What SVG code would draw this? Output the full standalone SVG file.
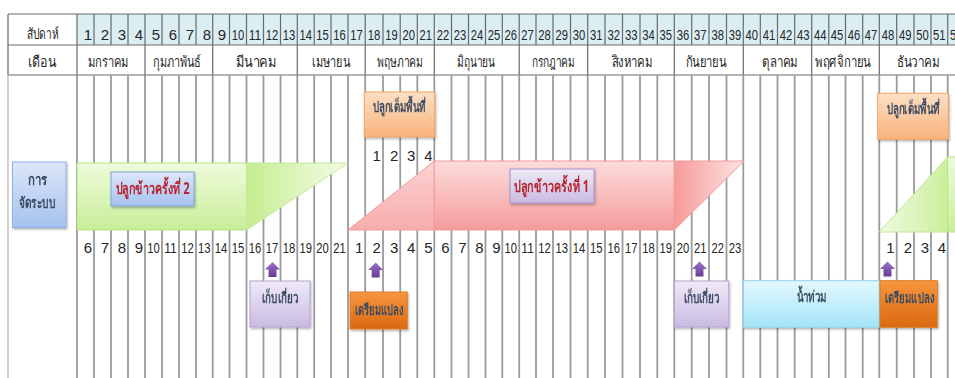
<svg xmlns="http://www.w3.org/2000/svg" width="955" height="378" viewBox="0 0 955 378">
  <style>
    .num { font-family: "Liberation Sans", sans-serif; font-size: 15px; fill: #262626; text-anchor: middle; }
    .th { font-family: "Noto Sans", "DejaVu Sans", sans-serif; font-size: 15px; fill: #262626; text-anchor: middle; }
    .lbl { font-family: "Noto Sans", "DejaVu Sans", sans-serif; font-size: 15px; font-weight: bold; fill: #3a4a62; text-anchor: middle; }
    .crop { font-family: "Noto Sans", "DejaVu Sans", sans-serif; font-size: 16px; font-weight: bold; fill: #b5222e; text-anchor: middle; }
    .hd { stroke: #6a6a6a; stroke-width: 1.2; fill: none; }
    .vl { stroke: #9b9b9b; stroke-width: 1.8; fill: none; }
    .box { filter: url(#shadow); }
  </style>
  <defs>
    <filter id="shadow" x="-20%" y="-20%" width="140%" height="150%">
      <feDropShadow dx="1" dy="1.5" stdDeviation="1" flood-color="#000" flood-opacity="0.3"/>
    </filter>
    <linearGradient id="gBlue" x1="0" y1="0" x2="0" y2="1">
      <stop offset="0" stop-color="#dce7f9"/>
      <stop offset="1" stop-color="#a6c2ef"/>
    </linearGradient>
    <linearGradient id="gLav" x1="0" y1="0" x2="0" y2="1">
      <stop offset="0" stop-color="#efe9f7"/>
      <stop offset="1" stop-color="#c9bbe2"/>
    </linearGradient>
    <linearGradient id="gPeach" x1="0" y1="0" x2="0" y2="1">
      <stop offset="0" stop-color="#fde0c4"/>
      <stop offset="1" stop-color="#f8b27c"/>
    </linearGradient>
    <linearGradient id="gOrange" x1="0" y1="0" x2="0" y2="1">
      <stop offset="0" stop-color="#f8963f"/>
      <stop offset="1" stop-color="#d9690f"/>
    </linearGradient>
    <linearGradient id="gCyan" x1="0" y1="0" x2="0" y2="1">
      <stop offset="0" stop-color="#e3f8fe"/>
      <stop offset="1" stop-color="#a4e4f7"/>
    </linearGradient>
    <linearGradient id="gGreen" x1="0" y1="0" x2="0" y2="1">
      <stop offset="0" stop-color="#eefbdc"/>
      <stop offset="1" stop-color="#c9ee98"/>
    </linearGradient>
    <linearGradient id="gGreenFade" x1="0" y1="0" x2="1" y2="0">
      <stop offset="0" stop-color="#c6ed90"/>
      <stop offset="1" stop-color="#f4fce9"/>
    </linearGradient>
    <linearGradient id="gGreenRise" x1="0" y1="0" x2="1" y2="0">
      <stop offset="0" stop-color="#eefbe0"/>
      <stop offset="1" stop-color="#cbef9c"/>
    </linearGradient>
    <linearGradient id="gPink" x1="0" y1="0" x2="0" y2="1">
      <stop offset="0" stop-color="#fddcdc"/>
      <stop offset="1" stop-color="#f59c9c"/>
    </linearGradient>
    <linearGradient id="gPinkL" x1="0" y1="0" x2="0" y2="1">
      <stop offset="0" stop-color="#fcd3d3"/>
      <stop offset="1" stop-color="#f8acac"/>
    </linearGradient>
    <linearGradient id="gPinkFade" x1="0" y1="0" x2="1" y2="0">
      <stop offset="0" stop-color="#f79a9a"/>
      <stop offset="1" stop-color="#fde4e4"/>
    </linearGradient>
    <linearGradient id="gArrow" x1="0" y1="0" x2="0" y2="1">
      <stop offset="0" stop-color="#9b73c6"/>
      <stop offset="1" stop-color="#683c97"/>
    </linearGradient>
    <path id="up" d="M0,0 L7.5,7.5 L4,7.5 L4,15 L-4,15 L-4,7.5 L-7.5,7.5 Z"/>
  </defs>

  <rect width="955" height="378" fill="#ffffff"/>

  <!-- header table -->
  <g id="header">
    <rect x="77" y="14" width="878" height="31" fill="#dbeef4"/>
    <path class="hd" d="M8,14H955 M8,45H955 M8,75H955 M8,14V75"/>
    <!-- week dividers in the week row -->
    <path class="hd" d="M77,14V45 M94,14V45 M111,14V45 M128,14V45 M145,14V45 M162,14V45 M179,14V45 M196,14V45 M212.7,14V45 M229.5,14V45 M246.5,14V45 M263.5,14V45 M280.5,14V45 M297.3,14V45 M314.2,14V45 M331,14V45 M348,14V45 M365.2,14V45 M383,14V45 M400.2,14V45 M417.3,14V45 M434.3,14V45 M451.5,14V45 M468.5,14V45 M485.5,14V45 M502.3,14V45 M519.2,14V45 M536,14V45 M553,14V45 M570.5,14V45 M587.7,14V45 M605,14V45 M622.5,14V45 M640,14V45 M657.3,14V45 M674.3,14V45 M691.7,14V45 M709,14V45 M726.5,14V45 M743.3,14V45 M760.3,14V45 M777.5,14V45 M794.7,14V45 M811.7,14V45 M828.8,14V45 M845.5,14V45 M862.7,14V45 M879.3,14V45 M896.7,14V45 M914,14V45 M931,14V45 M947.7,14V45"/>
    <!-- month dividers -->
    <path class="hd" d="M77,45V75 M145,45V75 M212.7,45V75 M297.3,45V75 M365.2,45V75 M434.3,45V75 M519.2,45V75 M587.7,45V75 M674.3,45V75 M743.3,45V75 M811.7,45V75 M879.3,45V75"/>
    <text class="th" x="42.5" y="39" textLength="32" lengthAdjust="spacingAndGlyphs">สัปดาห์</text>
    <text class="th" x="42" y="67" textLength="28" lengthAdjust="spacingAndGlyphs">เดือน</text>
    <g class="th" lengthAdjust="spacingAndGlyphs">
      <text x="108" y="67" textLength="41" lengthAdjust="spacingAndGlyphs">มกราคม</text>
      <text x="177" y="67" textLength="48" lengthAdjust="spacingAndGlyphs">กุมภาพันธ์</text>
      <text x="256" y="67" textLength="41" lengthAdjust="spacingAndGlyphs">มีนาคม</text>
      <text x="331" y="67" textLength="38" lengthAdjust="spacingAndGlyphs">เมษายน</text>
      <text x="400" y="67" textLength="46" lengthAdjust="spacingAndGlyphs">พฤษภาคม</text>
      <text x="476" y="67" textLength="38" lengthAdjust="spacingAndGlyphs">มิถุนายน</text>
      <text x="553" y="67" textLength="43" lengthAdjust="spacingAndGlyphs">กรกฎาคม</text>
      <text x="632" y="67" textLength="41" lengthAdjust="spacingAndGlyphs">สิงหาคม</text>
      <text x="706" y="67" textLength="41" lengthAdjust="spacingAndGlyphs">กันยายน</text>
      <text x="780" y="67" textLength="36" lengthAdjust="spacingAndGlyphs">ตุลาคม</text>
      <text x="843" y="67" textLength="56" lengthAdjust="spacingAndGlyphs">พฤศจิกายน</text>
      <text x="918" y="67" textLength="43" lengthAdjust="spacingAndGlyphs">ธันวาคม</text>
    </g>
    <g class="num">
      <text x="88" y="40" textLength="6">1</text><text x="105" y="40" textLength="6">2</text><text x="122" y="40" textLength="6">3</text><text x="139" y="40" textLength="6">4</text>
      <text x="156" y="40" textLength="6">5</text><text x="173" y="40" textLength="6">6</text><text x="190" y="40" textLength="6">7</text><text x="206.8" y="40" textLength="6">8</text>
      <text x="222" y="40" textLength="6">9</text>
      <text x="238" y="40" textLength="12.5" lengthAdjust="spacingAndGlyphs">10</text><text x="255" y="40" textLength="12.5" lengthAdjust="spacingAndGlyphs">11</text><text x="272" y="40" textLength="12.5" lengthAdjust="spacingAndGlyphs">12</text>
      <text x="288.9" y="40" textLength="12.5" lengthAdjust="spacingAndGlyphs">13</text><text x="305.7" y="40" textLength="12.5" lengthAdjust="spacingAndGlyphs">14</text><text x="322.6" y="40" textLength="12.5" lengthAdjust="spacingAndGlyphs">15</text><text x="339.5" y="40" textLength="12.5" lengthAdjust="spacingAndGlyphs">16</text>
      <text x="356.6" y="40" textLength="12.5" lengthAdjust="spacingAndGlyphs">17</text><text x="374.1" y="40" textLength="12.5" lengthAdjust="spacingAndGlyphs">18</text><text x="391.6" y="40" textLength="12.5" lengthAdjust="spacingAndGlyphs">19</text><text x="408.7" y="40" textLength="12.5" lengthAdjust="spacingAndGlyphs">20</text>
      <text x="425.8" y="40" textLength="12.5" lengthAdjust="spacingAndGlyphs">21</text><text x="442.9" y="40" textLength="12.5" lengthAdjust="spacingAndGlyphs">22</text><text x="460" y="40" textLength="12.5" lengthAdjust="spacingAndGlyphs">23</text><text x="477" y="40" textLength="12.5" lengthAdjust="spacingAndGlyphs">24</text>
      <text x="493.9" y="40" textLength="12.5" lengthAdjust="spacingAndGlyphs">25</text><text x="510.7" y="40" textLength="12.5" lengthAdjust="spacingAndGlyphs">26</text><text x="527.6" y="40" textLength="12.5" lengthAdjust="spacingAndGlyphs">27</text><text x="544.5" y="40" textLength="12.5" lengthAdjust="spacingAndGlyphs">28</text>
      <text x="561.7" y="40" textLength="12.5" lengthAdjust="spacingAndGlyphs">29</text><text x="579.1" y="40" textLength="12.5" lengthAdjust="spacingAndGlyphs">30</text><text x="596.3" y="40" textLength="12.5" lengthAdjust="spacingAndGlyphs">31</text><text x="613.7" y="40" textLength="12.5" lengthAdjust="spacingAndGlyphs">32</text>
      <text x="631.2" y="40" textLength="12.5" lengthAdjust="spacingAndGlyphs">33</text><text x="648.6" y="40" textLength="12.5" lengthAdjust="spacingAndGlyphs">34</text><text x="665.8" y="40" textLength="12.5" lengthAdjust="spacingAndGlyphs">35</text><text x="683" y="40" textLength="12.5" lengthAdjust="spacingAndGlyphs">36</text>
      <text x="700.3" y="40" textLength="12.5" lengthAdjust="spacingAndGlyphs">37</text><text x="717.7" y="40" textLength="12.5" lengthAdjust="spacingAndGlyphs">38</text><text x="734.9" y="40" textLength="12.5" lengthAdjust="spacingAndGlyphs">39</text><text x="751.8" y="40" textLength="12.5" lengthAdjust="spacingAndGlyphs">40</text>
      <text x="768.9" y="40" textLength="12.5" lengthAdjust="spacingAndGlyphs">41</text><text x="786.1" y="40" textLength="12.5" lengthAdjust="spacingAndGlyphs">42</text><text x="803.2" y="40" textLength="12.5" lengthAdjust="spacingAndGlyphs">43</text><text x="820.2" y="40" textLength="12.5" lengthAdjust="spacingAndGlyphs">44</text>
      <text x="837.1" y="40" textLength="12.5" lengthAdjust="spacingAndGlyphs">45</text><text x="854.1" y="40" textLength="12.5" lengthAdjust="spacingAndGlyphs">46</text><text x="871" y="40" textLength="12.5" lengthAdjust="spacingAndGlyphs">47</text><text x="888" y="40" textLength="12.5" lengthAdjust="spacingAndGlyphs">48</text>
      <text x="905.3" y="40" textLength="12.5" lengthAdjust="spacingAndGlyphs">49</text><text x="922.5" y="40" textLength="12.5" lengthAdjust="spacingAndGlyphs">50</text><text x="939.3" y="40" textLength="12.5" lengthAdjust="spacingAndGlyphs">51</text><text x="956.2" y="40" textLength="12.5" lengthAdjust="spacingAndGlyphs">52</text>
    </g>
  </g>

  <!-- body week lines -->
  <g id="body-grid">
    <path d="M8,75V378" stroke="#cfcfcf" stroke-width="1.8"/>
    <path class="vl" d="M77,75V378 M94,75V378 M111,75V378 M128,75V378 M145,75V378 M162,75V378 M179,75V378 M196,75V378 M212.7,75V378 M229.5,75V378 M246.5,75V378 M263.5,75V378 M280.5,75V378 M297.3,75V378 M314.2,75V378 M331,75V378 M348,75V378 M365.2,75V378 M383,75V378 M400.2,75V378 M417.3,75V378 M434.3,75V378 M451.5,75V378 M468.5,75V378 M485.5,75V378 M502.3,75V378 M519.2,75V378 M536,75V378 M553,75V378 M570.5,75V378 M587.7,75V378 M605,75V378 M622.5,75V378 M640,75V378 M657.3,75V378 M674.3,75V378 M691.7,75V378 M709,75V378 M726.5,75V378 M743.3,75V378 M760.3,75V378 M777.5,75V378 M794.7,75V378 M811.7,75V378 M828.8,75V378 M845.5,75V378 M862.7,75V378 M879.3,75V378 M896.7,75V378 M914,75V378 M931,75V378 M947.7,75V378"/>
  </g>

  <!-- week counters inside the crop periods -->
  <g id="counters" class="num">
    <text x="376.6" y="161" textLength="6">1</text><text x="394.1" y="161" textLength="6">2</text><text x="411.2" y="161" textLength="6">3</text><text x="428.3" y="161" textLength="6">4</text>
    <text x="88" y="253" textLength="6">6</text><text x="105" y="253" textLength="6">7</text><text x="122" y="253" textLength="6">8</text><text x="139" y="253" textLength="6">9</text>
    <text x="153.5" y="253" textLength="12.5" lengthAdjust="spacingAndGlyphs">10</text><text x="170.5" y="253" textLength="12.5" lengthAdjust="spacingAndGlyphs">11</text><text x="187.5" y="253" textLength="12.5" lengthAdjust="spacingAndGlyphs">12</text><text x="204.3" y="253" textLength="12.5" lengthAdjust="spacingAndGlyphs">13</text>
    <text x="221.1" y="253" textLength="12.5" lengthAdjust="spacingAndGlyphs">14</text><text x="238" y="253" textLength="12.5" lengthAdjust="spacingAndGlyphs">15</text><text x="255" y="253" textLength="12.5" lengthAdjust="spacingAndGlyphs">16</text><text x="272" y="253" textLength="12.5" lengthAdjust="spacingAndGlyphs">17</text>
    <text x="288.9" y="253" textLength="12.5" lengthAdjust="spacingAndGlyphs">18</text><text x="305.7" y="253" textLength="12.5" lengthAdjust="spacingAndGlyphs">19</text><text x="322.6" y="253" textLength="12.5" lengthAdjust="spacingAndGlyphs">20</text><text x="339.5" y="253" textLength="12.5" lengthAdjust="spacingAndGlyphs">21</text>
    <text x="359.1" y="253" textLength="6">1</text><text x="376.6" y="253" textLength="6">2</text><text x="394.1" y="253" textLength="6">3</text><text x="411.2" y="253" textLength="6">4</text>
    <text x="428.3" y="253" textLength="6">5</text><text x="445.4" y="253" textLength="6">6</text><text x="462.5" y="253" textLength="6">7</text><text x="479.5" y="253" textLength="6">8</text>
    <text x="496.4" y="253" textLength="6">9</text><text x="510.7" y="253" textLength="12.5" lengthAdjust="spacingAndGlyphs">10</text><text x="527.6" y="253" textLength="12.5" lengthAdjust="spacingAndGlyphs">11</text><text x="544.5" y="253" textLength="12.5" lengthAdjust="spacingAndGlyphs">12</text>
    <text x="561.7" y="253" textLength="12.5" lengthAdjust="spacingAndGlyphs">13</text><text x="579.1" y="253" textLength="12.5" lengthAdjust="spacingAndGlyphs">14</text><text x="596.3" y="253" textLength="12.5" lengthAdjust="spacingAndGlyphs">15</text><text x="613.7" y="253" textLength="12.5" lengthAdjust="spacingAndGlyphs">16</text>
    <text x="631.2" y="253" textLength="12.5" lengthAdjust="spacingAndGlyphs">17</text><text x="648.6" y="253" textLength="12.5" lengthAdjust="spacingAndGlyphs">18</text><text x="665.8" y="253" textLength="12.5" lengthAdjust="spacingAndGlyphs">19</text><text x="683" y="253" textLength="12.5" lengthAdjust="spacingAndGlyphs">20</text>
    <text x="700.3" y="253" textLength="12.5" lengthAdjust="spacingAndGlyphs">21</text><text x="717.7" y="253" textLength="12.5" lengthAdjust="spacingAndGlyphs">22</text><text x="734.9" y="253" textLength="12.5" lengthAdjust="spacingAndGlyphs">23</text>
    <text x="890.5" y="253" textLength="6">1</text><text x="907.8" y="253" textLength="6">2</text><text x="925" y="253" textLength="6">3</text><text x="941.8" y="253" textLength="6">4</text>
  </g>

  <!-- second crop, carried from the previous year -->
  <g id="crop2">
    <rect x="77" y="163" width="169.5" height="67" fill="url(#gGreen)" stroke="#b9e283" stroke-width="1"/>
    <path d="M246.5,163 L348,163 L246.5,230 Z" fill="url(#gGreenFade)" stroke="#c4e89a" stroke-width="1"/>
  </g>
  <g id="crop2-label" class="box">
    <rect x="111" y="172" width="83" height="34" fill="url(#gBlue)" stroke="#7fa3da" stroke-width="1"/>
    <text class="crop" x="152.5" y="194" textLength="74" lengthAdjust="spacingAndGlyphs">ปลูกข้าวครั้งที่ 2</text>
  </g>

  <!-- first crop -->
  <g id="crop1">
    <path d="M348,230 L434.3,161 L434.3,230 Z" fill="url(#gPinkL)" stroke="#f39a9a" stroke-width="1"/>
    <rect x="434.3" y="161" width="240" height="69" fill="url(#gPink)" stroke="#f39a9a" stroke-width="1"/>
    <path d="M674.3,161 L744,161 L674.3,230 Z" fill="url(#gPinkFade)" stroke="#f39a9a" stroke-width="1"/>
  </g>
  <g id="crop1-label" class="box">
    <rect x="510" y="169" width="84" height="34" fill="url(#gLav)" stroke="#a893cf" stroke-width="1"/>
    <text class="crop" x="551.5" y="192" textLength="75" lengthAdjust="spacingAndGlyphs">ปลูกข้าวครั้งที่ 1</text>
  </g>

  <!-- second crop of the next year -->
  <g id="crop2-next">
    <path d="M879.3,232 L947.7,157 L947.7,232 Z" fill="url(#gGreenRise)" stroke="#c4e89a" stroke-width="1"/>
    <rect x="947.7" y="157" width="10" height="75" fill="url(#gGreen)" stroke="#b9e283" stroke-width="1"/>
  </g>

  <g id="system" class="box">
    <rect x="12.5" y="162" width="53.5" height="65.5" fill="url(#gBlue)" stroke="#8eb0e5" stroke-width="1"/>
    <text class="lbl" x="37.5" y="185" textLength="19" lengthAdjust="spacingAndGlyphs" font-weight="normal">การ</text>
    <text class="lbl" x="37" y="208" textLength="37" lengthAdjust="spacingAndGlyphs" font-weight="normal">จัดระบบ</text>
  </g>

  <g id="full-area-1" class="box">
    <rect x="364.3" y="92" width="70.5" height="45" fill="url(#gPeach)" stroke="#f2a666" stroke-width="1"/>
    <text class="lbl" x="399" y="112" textLength="53" lengthAdjust="spacingAndGlyphs">ปลูกเต็มพื้นที่</text>
  </g>
  <g id="full-area-2" class="box">
    <rect x="877.7" y="93.3" width="70.6" height="46" fill="url(#gPeach)" stroke="#f2a666" stroke-width="1"/>
    <text class="lbl" x="913" y="114" textLength="53" lengthAdjust="spacingAndGlyphs">ปลูกเต็มพื้นที่</text>
  </g>

  <g id="harvest-1" class="box">
    <rect x="250" y="281" width="60" height="46" fill="url(#gLav)" stroke="#b3a3d2" stroke-width="1"/>
    <text class="lbl" x="280" y="303" textLength="36" lengthAdjust="spacingAndGlyphs">เก็บเกี่ยว</text>
  </g>
  <g id="prepare-1" class="box">
    <rect x="350" y="292" width="57.3" height="37" fill="url(#gOrange)" stroke="#e07d2a" stroke-width="1"/>
    <text class="lbl" x="379" y="315" textLength="48" lengthAdjust="spacingAndGlyphs" fill="#3b2c1e">เตรียมแปลง</text>
  </g>
  <g id="harvest-2" class="box">
    <rect x="674.3" y="281" width="54.4" height="46" fill="url(#gLav)" stroke="#b3a3d2" stroke-width="1"/>
    <text class="lbl" x="701.5" y="303" textLength="36" lengthAdjust="spacingAndGlyphs">เก็บเกี่ยว</text>
  </g>
  <g id="flood" class="box">
    <rect x="743.3" y="280.7" width="136" height="46.6" fill="url(#gCyan)" stroke="#8fd5ec" stroke-width="1"/>
    <text class="lbl" x="811.5" y="302" textLength="30" lengthAdjust="spacingAndGlyphs">น้ำท่วม</text>
  </g>
  <g id="prepare-2" class="box">
    <rect x="880" y="280.7" width="57.3" height="46.6" fill="url(#gOrange)" stroke="#e07d2a" stroke-width="1"/>
    <text class="lbl" x="909.5" y="303" textLength="49" lengthAdjust="spacingAndGlyphs" fill="#3b2c1e">เตรียมแปลง</text>
  </g>

  <!-- up arrows marking the start of each activity -->
  <g id="connectors" fill="url(#gArrow)">
    <use href="#up" x="272.5" y="262"/>
    <use href="#up" x="375.7" y="262.5"/>
    <use href="#up" x="699.5" y="261.5"/>
    <use href="#up" x="887.5" y="261.5"/>
  </g>
</svg>
